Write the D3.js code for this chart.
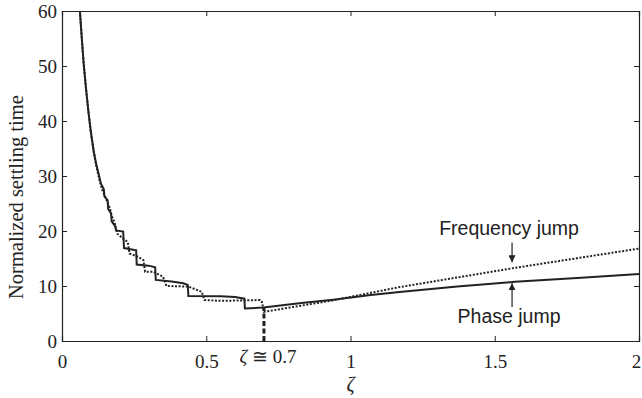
<!DOCTYPE html>
<html>
<head>
<meta charset="utf-8">
<script src="https://cdn.jsdelivr.net/npm/d3@7"></script>
<style>
  body { margin: 0; background: #fff; }
  svg { display: block; }
</style>
</head>
<body>
<script>
//chart data
const xTicks = [0, 0.5, 1, 1.5, 2];
const xTickLabels = ["0", "0.5", "1", "1.5", "2"];
const yTicks = [0, 10, 20, 30, 40, 50, 60];

//phase jump (solid), [zeta, normalized settling time]
const phaseJump = [
    [0.062, 60], [0.068, 55.5], [0.075, 50.5], [0.083, 46], [0.092, 41.5], [0.100, 38],
    [0.110, 34.5], [0.118, 32.3], [0.126, 30.6], [0.135, 28.6], [0.145, 27.6], [0.147, 26.3],
    [0.158, 25.6], [0.160, 24.0], [0.170, 23.2], [0.172, 21.8], [0.185, 20.8], [0.187, 20.1],
    [0.212, 19.9], [0.215, 16.9], [0.257, 16.5], [0.259, 13.9], [0.300, 13.7], [0.323, 13.4],
    [0.325, 11.1], [0.380, 10.8], [0.420, 10.5], [0.436, 10.2], [0.438, 8.2], [0.550, 8.15],
    [0.600, 8.0], [0.632, 7.7], [0.634, 5.9], [0.698, 6.1], [0.830, 6.9], [0.940, 7.5],
    [1.070, 8.35], [1.170, 8.9], [1.370, 9.9], [1.570, 10.76], [1.800, 11.5], [2.000, 12.16]
];

//frequency jump (dotted)
const freqJump = [
    [0.062, 60], [0.068, 55.5], [0.075, 50.5], [0.083, 46], [0.092, 41.5], [0.100, 38],
    [0.110, 34.3], [0.120, 31.5], [0.130, 29.2], [0.140, 27.4], [0.150, 26.2], [0.165, 24.3],
    [0.172, 22.8], [0.182, 21.6], [0.192, 19.5], [0.212, 18.6], [0.228, 18.0], [0.234, 15.9],
    [0.264, 15.3], [0.282, 14.7], [0.288, 12.6], [0.316, 12.6], [0.350, 11.7], [0.362, 10.0],
    [0.438, 9.9], [0.484, 8.95], [0.494, 7.45], [0.550, 7.3], [0.686, 7.45], [0.693, 7.1],
    [0.700, 5.3], [0.940, 7.4], [1.170, 9.8], [1.570, 13.3], [2.000, 16.8]
];

//optimum damping marker
const markerZeta = 0.7;
const markerTime = 6.1;
const markerLabel = " \u2245 0.7";

//annotation labels
const freqLabel = { text: "Frequency jump", zeta: 1.56, time: 19.2, arrowFrom: 17.9, arrowTo: 14.3 };
const phaseLabel = { text: "Phase jump", zeta: 1.56, time: 3.2, arrowFrom: 6.2, arrowTo: 10.5 };

//SVG dimension variables
const w = 642, h = 398;
const margin = { top: 11, right: 3, bottom: 56, left: 62 };
const ink = "#222";
const serif = "'Liberation Serif', 'Times New Roman', serif";

var svg = d3.select("body")
    .append("svg")
    .attr("width", w)
    .attr("height", h);

//scales
var x = d3.scaleLinear()
    .domain([0, 2])
    .range([margin.left, w - margin.right]);

var y = d3.scaleLinear()
    .domain([0, 60])
    .range([h - margin.bottom - 1, margin.top]);

//axes with ticks pointing inward
var bottom = svg.append("g")
    .attr("transform", `translate(0,${y(0)})`)
    .call(d3.axisBottom(x).tickValues(xTicks).tickSize(-5).tickPadding(9)
        .tickFormat((d, i) => xTickLabels[i]));

var top = svg.append("g")
    .attr("transform", `translate(0,${y(60)})`)
    .call(d3.axisTop(x).tickValues(xTicks).tickSize(-5).tickFormat(""));

var left = svg.append("g")
    .attr("transform", `translate(${x(0)},0)`)
    .call(d3.axisLeft(y).tickValues(yTicks).tickSize(-5).tickPadding(5));

var right = svg.append("g")
    .attr("transform", `translate(${x(2)},0)`)
    .call(d3.axisRight(y).tickValues(yTicks).tickSize(-5).tickFormat(""));

svg.selectAll(".domain").attr("stroke", ink).attr("stroke-width", 1.2);
svg.selectAll(".tick line").attr("stroke", ink).attr("stroke-width", 1);
svg.selectAll(".tick text")
    .style("font-family", serif)
    .style("font-size", "19px")
    .style("fill", ink);
bottom.selectAll(".tick text").attr("dy", "0.95em");
bottom.selectAll(".tick text").filter(d => d === 2).attr("dx", -3);
left.selectAll(".tick text").attr("dy", "0.34em");

//line generator
var line = d3.line()
    .x(d => x(d[0]))
    .y(d => y(d[1]));

svg.append("path")
    .datum(freqJump)
    .attr("d", line)
    .attr("fill", "none")
    .attr("stroke", ink)
    .attr("stroke-width", 2)
    .attr("stroke-dasharray", "2,1.6");

svg.append("path")
    .datum(phaseJump)
    .attr("d", line)
    .attr("fill", "none")
    .attr("stroke", ink)
    .attr("stroke-width", 2);

//dashed drop line at zeta ~ 0.7
svg.append("line")
    .attr("x1", x(markerZeta)).attr("x2", x(markerZeta))
    .attr("y1", y(0)).attr("y2", y(markerTime))
    .attr("stroke", ink)
    .attr("stroke-width", 3)
    .attr("stroke-dasharray", "5,2.5");

var mk = svg.append("text")
    .attr("x", x(markerZeta) + 4)
    .attr("y", y(0) + 22)
    .attr("text-anchor", "middle")
    .style("font-family", serif)
    .style("font-size", "19px")
    .style("fill", ink);
mk.append("tspan").style("font-style", "italic").text("\u03B6");
mk.append("tspan").text(markerLabel);

//axis titles
svg.append("text")
    .attr("x", x(1))
    .attr("y", h - 7)
    .attr("text-anchor", "middle")
    .style("font-family", serif)
    .style("font-style", "italic")
    .style("font-size", "20px")
    .style("fill", ink)
    .text("\u03B6");

svg.append("text")
    .attr("transform", "translate(23,299) rotate(-90)")
    .attr("text-anchor", "start")
    .style("font-family", serif)
    .style("font-size", "20.5px")
    .style("fill", ink)
    .text("Normalized settling time");

//arrow head marker
svg.append("defs").append("marker")
    .attr("id", "head")
    .attr("viewBox", "0 0 10 10")
    .attr("refX", 10).attr("refY", 5)
    .attr("markerWidth", 7).attr("markerHeight", 7)
    .attr("markerUnits", "userSpaceOnUse")
    .attr("orient", "auto")
    .append("path")
    .attr("d", "M0,0L10,5L0,10z")
    .attr("fill", ink);

//curve annotations
[freqLabel, phaseLabel].forEach(a => {
    svg.append("text")
        .attr("x", x(a.zeta) - 3)
        .attr("y", y(a.time))
        .attr("text-anchor", "middle")
        .style("font-family", "'Liberation Sans', Arial, sans-serif")
        .style("font-size", "19.5px")
        .style("fill", ink)
        .text(a.text);
    svg.append("line")
        .attr("x1", x(a.zeta)).attr("x2", x(a.zeta))
        .attr("y1", y(a.arrowFrom)).attr("y2", y(a.arrowTo))
        .attr("stroke", ink)
        .attr("stroke-width", 1.2)
        .attr("marker-end", "url(#head)");
});
</script>
</body>
</html>
